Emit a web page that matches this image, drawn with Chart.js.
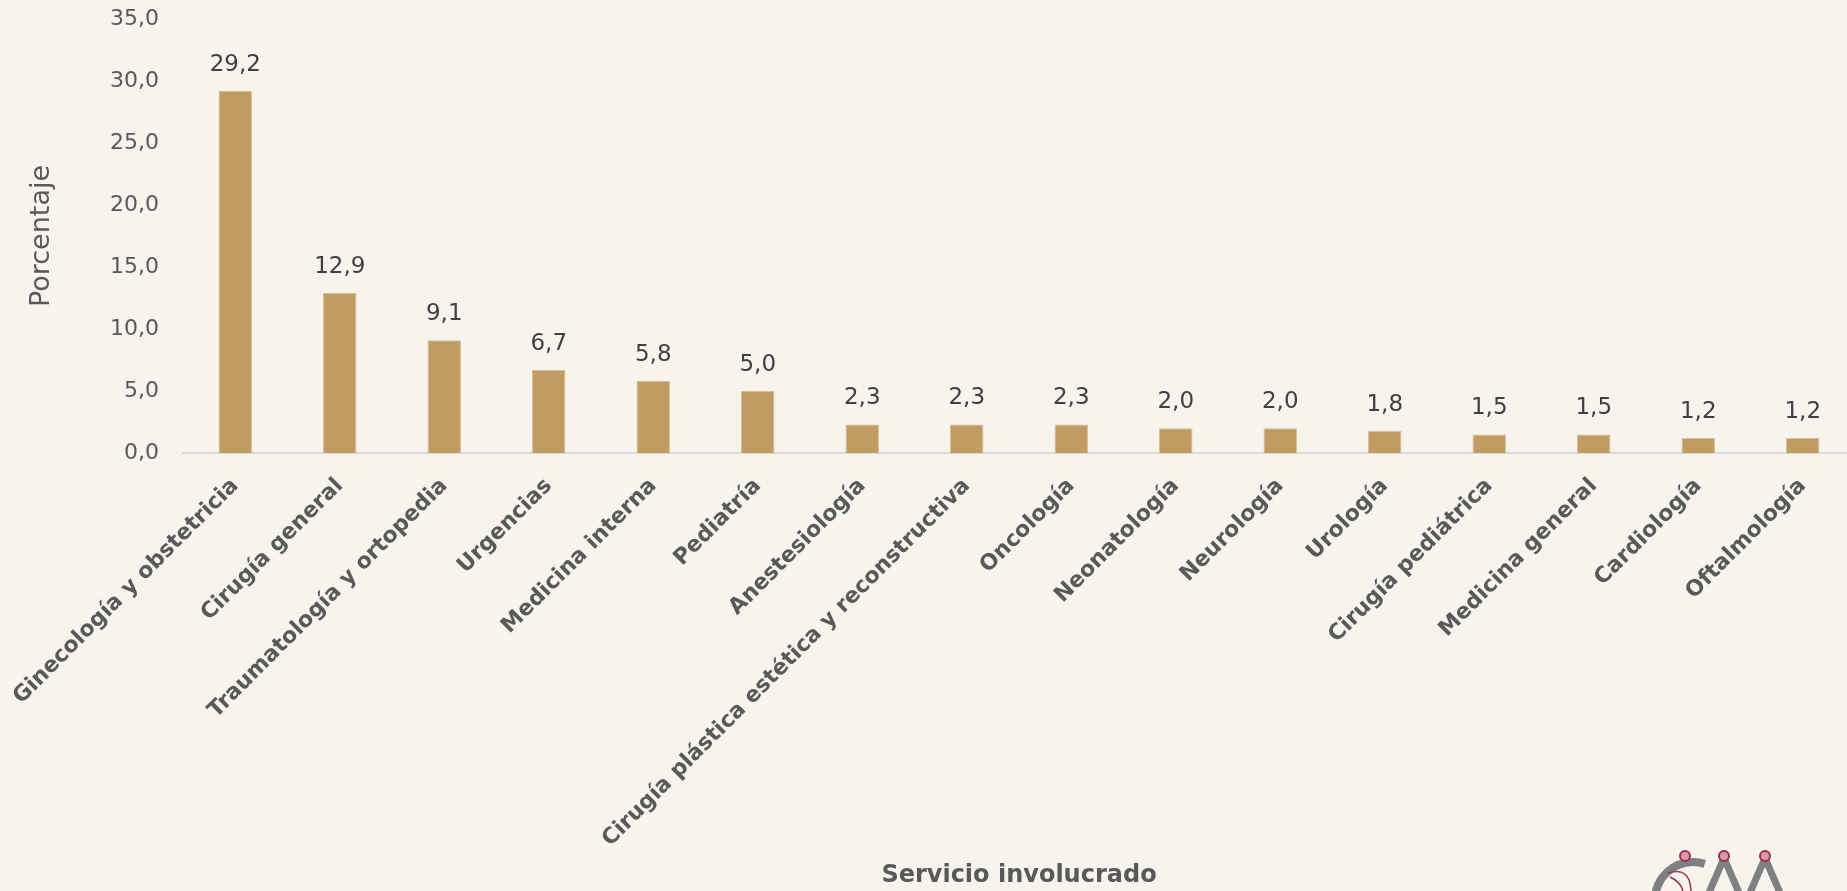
<!DOCTYPE html>
<html>
<head>
<meta charset="utf-8">
<script src="https://cdn.jsdelivr.net/npm/chart.js@4.4.1/dist/chart.umd.min.js"></script>
<style>
  html, body { margin: 0; padding: 0; overflow: hidden; background: #f7f3ed; }
  canvas { display: block; }
</style>
</head>
<body>
<canvas id="serviciosChart" width="1855" height="891"></canvas>
<script>
var servicios = [
    'Ginecología y obstetricia', 'Cirugía general', 'Traumatología y ortopedia', 'Urgencias',
    'Medicina interna', 'Pediatría', 'Anestesiología', 'Cirugía plástica estética y reconstructiva',
    'Oncología', 'Neonatología', 'Neurología', 'Urología', 'Cirugía pediátrica',
    'Medicina general', 'Cardiología', 'Oftalmología'
];
var porcentajes = [29.2, 12.9, 9.1, 6.7, 5.8, 5.0, 2.3, 2.3, 2.3, 2.0, 2.0, 1.8, 1.5, 1.5, 1.2, 1.2];
var yMax = 35;
var yStep = 5;

var fuente = "'DejaVu Sans', sans-serif";
var gris = '#595959';

function coma(v) {
    return v.toFixed(1).replace('.', ',');
}

// etiquetas de valor encima de cada barra
var etiquetasValor = {
    id: 'etiquetasValor',
    afterDatasetsDraw: function(chart) {
        var ctx = chart.ctx;
        var meta = chart.getDatasetMeta(0);
        ctx.save();
        ctx.font = '23px ' + fuente;
        ctx.fillStyle = '#404040';
        ctx.textAlign = 'center';
        ctx.textBaseline = 'middle';
        meta.data.forEach(function(bar, i) {
            ctx.fillText(coma(porcentajes[i]), bar.x, bar.y - 26);
        });
        ctx.restore();
    }
};

// logo recortado en la esquina inferior derecha
var logo = {
    id: 'logo',
    afterDraw: function(chart) {
        var ctx = chart.ctx;
        ctx.save();
        ctx.strokeStyle = '#7f8081';
        ctx.lineWidth = 8;
        ctx.beginPath();
        ctx.arc(1693, 900, 38, Math.PI * 0.95, Math.PI * 1.6);
        ctx.stroke();
        ctx.lineWidth = 7;
        ctx.beginPath();
        ctx.moveTo(1708, 895); ctx.lineTo(1724, 858); ctx.lineTo(1740, 895);
        ctx.moveTo(1749, 895); ctx.lineTo(1765, 858); ctx.lineTo(1781, 895);
        ctx.stroke();
        ctx.strokeStyle = '#9b2f4e';
        ctx.lineWidth = 1.5;
        ctx.beginPath();
        ctx.moveTo(1668, 873);
        ctx.quadraticCurveTo(1690, 866, 1691, 891);
        ctx.moveTo(1670, 877);
        ctx.quadraticCurveTo(1681, 882, 1683, 891);
        ctx.stroke();
        [1685, 1724, 1765].forEach(function(x) {
            ctx.beginPath();
            ctx.arc(x, 856, 5, 0, Math.PI * 2);
            ctx.fillStyle = '#d69aa8';
            ctx.fill();
            ctx.lineWidth = 2;
            ctx.strokeStyle = '#9b2f4e';
            ctx.stroke();
        });
        ctx.restore();
    }
};

var ctx = document.getElementById('serviciosChart').getContext('2d');
var serviciosChart = new Chart(ctx, {
    type: 'bar',
    data: {
        labels: servicios,
        datasets: [{
            label: 'Porcentaje',
            data: porcentajes,
            backgroundColor: '#c19b64',
            borderColor: '#d6bd94',
            borderWidth: 1,
            barPercentage: 1,
            categoryPercentage: 0.32
        }]
    },
    options: {
        responsive: false,
        animation: false,
        layout: { padding: { top: 19, left: 0, right: 0, bottom: 0 } },
        plugins: {
            legend: { display: false },
            tooltip: { enabled: false }
        },
        scales: {
            y: {
                min: 0,
                max: yMax,
                afterFit: function(scale) {
                    scale.width = 183;
                    scale.paddingTop = 0;
                    scale.paddingBottom = 0;
                },
                grid: { display: false, drawTicks: false },
                border: { display: false },
                ticks: {
                    stepSize: yStep,
                    padding: 24,
                    color: gris,
                    font: { family: fuente, size: 22 },
                    callback: function(v) { return coma(v); }
                },
                title: {
                    display: true,
                    text: 'Porcentaje',
                    color: gris,
                    padding: { top: 26, bottom: 0 },
                    font: { family: fuente, size: 27 }
                }
            },
            x: {
                afterFit: function(scale) {
                    scale.height = 438;
                    scale.paddingLeft = 0;
                    scale.paddingRight = 0;
                },
                grid: { display: false, drawTicks: false },
                border: { color: '#d9d9d9', width: 2 },
                ticks: {
                    minRotation: 45,
                    maxRotation: 45,
                    autoSkip: false,
                    padding: 20,
                    color: gris,
                    font: { family: fuente, size: 22, weight: 'bold' }
                },
                title: {
                    display: true,
                    text: 'Servicio involucrado',
                    color: gris,
                    padding: { top: 0, bottom: 1 },
                    font: { family: fuente, size: 24, weight: 'bold' }
                }
            }
        }
    },
    plugins: [etiquetasValor, logo]
});
</script>
</body>
</html>
